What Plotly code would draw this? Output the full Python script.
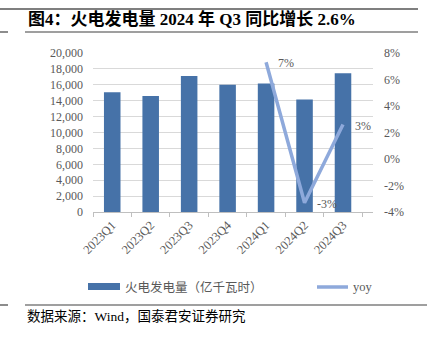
import plotly.graph_objects as go

# 火电发电量（亿千瓦时）及同比
quarters = ["2023Q1", "2023Q2", "2023Q3", "2023Q4", "2024Q1", "2024Q2", "2024Q3"]
thermal_gen = [15050, 14600, 17100, 16000, 16150, 14150, 17450]
yoy_quarters = ["2024Q1", "2024Q2", "2024Q3"]
yoy_pct = [7.3, -3.3, 2.6]

left_ticks = list(range(0, 20001, 2000))
right_ticks = list(range(-4, 9, 2))

W, H = 430, 337
L, R, T, B = 93, 57, 53, 125
PW, PH = W - L - R, H - T - B

def px(x):
    return (x - L) / PW

def py(y):
    return (H - B - y) / PH

SERIF = "Liberation Serif, Noto Sans CJK SC, serif"
CJK = "Liberation Serif, Noto Sans CJK SC, serif"
GRAY = "#595959"
BAR = "#4672A8"
LINE = "#8EA9DB"

fig = go.Figure()
fig.add_trace(go.Bar(
    x=quarters, y=thermal_gen, name="火电发电量（亿千瓦时）",
    marker=dict(color=BAR, line=dict(width=0)), yaxis="y", showlegend=False,
))
fig.add_trace(go.Scatter(
    x=yoy_quarters, y=yoy_pct, name="yoy", mode="lines",
    line=dict(color=LINE, width=3.5),
    yaxis="y2", showlegend=False, cliponaxis=False,
))

fig.update_layout(
    width=W, height=H, margin=dict(l=L, r=R, t=T, b=B),
    paper_bgcolor="white", plot_bgcolor="white",
    bargap=0.57,
    xaxis=dict(
        categoryorder="array", categoryarray=quarters,
        tickangle=-45, tickfont=dict(family=SERIF, size=12.5, color=GRAY),
        showline=True, linecolor="#BFBFBF", linewidth=1,
        ticks="outside", tickson="boundaries", ticklen=4, tickcolor="#BFBFBF",
        showgrid=False,
    ),
    yaxis=dict(
        range=[0, 20000], tickvals=left_ticks,
        ticktext=[f"{v:,}" for v in left_ticks],
        tickfont=dict(family=SERIF, size=12, color=GRAY),
        showgrid=True, gridcolor="#D9D9D9", gridwidth=1,
        zeroline=False, ticks="", ticklabelstandoff=9,
    ),
    yaxis2=dict(
        range=[-4, 8], tickvals=right_ticks,
        ticktext=[f"{v}%" for v in right_ticks],
        overlaying="y", side="right", showgrid=False, zeroline=False,
        tickfont=dict(family=SERIF, size=12, color=GRAY), ticklabelstandoff=10,
    ),
    font=dict(family=SERIF, color=GRAY),
)

shapes = [
    # 顶部线
    dict(type="line", xref="paper", yref="paper", x0=px(0), x1=px(418), y0=py(9), y1=py(9),
         line=dict(color="#7F7F7F", width=2)),
    # 标题下划线
    dict(type="line", xref="paper", yref="paper", x0=px(0), x1=px(8), y0=py(32), y1=py(32),
         line=dict(color="#404040", width=1.2)),
    dict(type="line", xref="paper", yref="paper", x0=px(25), x1=px(418), y0=py(32), y1=py(32),
         line=dict(color="#404040", width=1.2)),
    # 底部线
    dict(type="line", xref="paper", yref="paper", x0=px(0), x1=px(8), y0=py(305), y1=py(305),
         line=dict(color="#404040", width=1.2)),
    dict(type="line", xref="paper", yref="paper", x0=px(25), x1=px(427), y0=py(305), y1=py(305),
         line=dict(color="#404040", width=1.2)),
    # 图例标记
    dict(type="rect", xref="paper", yref="paper", x0=px(88), x1=px(120), y0=py(290), y1=py(283),
         fillcolor=BAR, line=dict(width=0)),
    dict(type="line", xref="paper", yref="paper", x0=px(317), x1=px(348), y0=py(287), y1=py(287),
         line=dict(color=LINE, width=3.5)),
]
fig.update_layout(shapes=shapes)

annotations = [
    dict(text="<b>图4：火电发电量 2024 年 Q3 同比增长 2.6%</b>", xref="paper", yref="paper",
         x=px(26), y=py(19), xanchor="left", yanchor="middle", showarrow=False,
         font=dict(family=CJK, size=17, color="black")),
    dict(text="火电发电量（亿千瓦时）", xref="paper", yref="paper",
         x=px(123), y=py(287), xanchor="left", yanchor="middle", showarrow=False,
         font=dict(family=CJK, size=12.5, color=GRAY)),
    dict(text="yoy", xref="paper", yref="paper",
         x=px(351), y=py(287), xanchor="left", yanchor="middle", showarrow=False,
         font=dict(family=SERIF, size=12.5, color=GRAY)),
    dict(text="数据来源：Wind，国泰君安证券研究", xref="paper", yref="paper",
         x=px(25), y=py(316), xanchor="left", yanchor="middle", showarrow=False,
         font=dict(family=CJK, size=13.5, color="black")),
]
# 同比数据标签
for q, v in zip(yoy_quarters, yoy_pct):
    annotations.append(dict(
        text=f"{v:.0f}%", x=q, y=v, xref="x", yref="y2",
        xanchor="left", yanchor="middle", xshift=10, yshift=-1, showarrow=False,
        font=dict(family=SERIF, size=12, color=GRAY),
    ))
fig.update_layout(annotations=annotations)

fig.write_html("out.html")
